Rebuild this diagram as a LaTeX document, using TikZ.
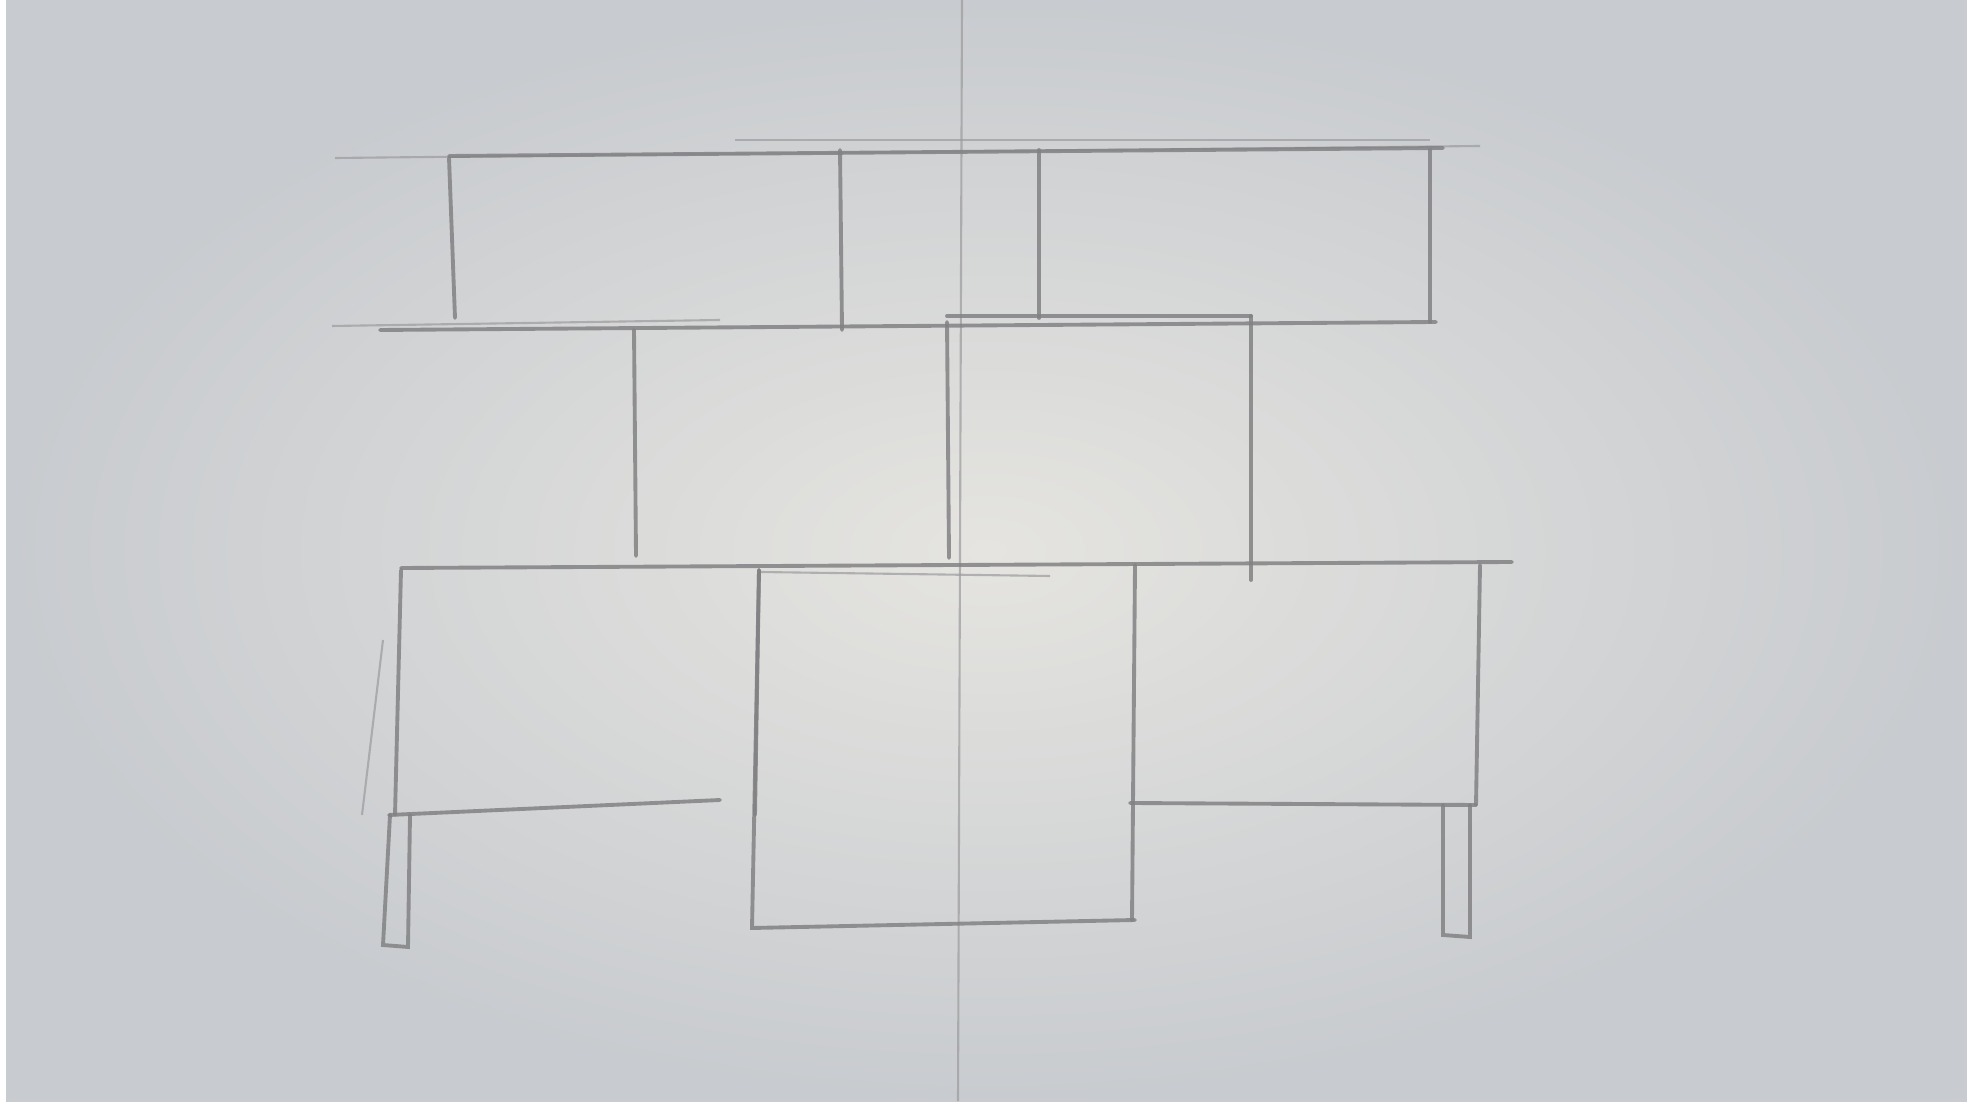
\documentclass[tikz,border=0pt]{standalone}
\begin{document}
\begin{tikzpicture}[x=0.01cm,y=-0.01cm,
  pencil/.style={draw={rgb,255:red,130;green,130;blue,132},line width=1.1pt,line cap=round,opacity=0.85},
  faint/.style={draw={rgb,255:red,155;green,155;blue,157},line width=0.6pt,opacity=0.7}]
\useasboundingbox (0,0) rectangle (1967,1107);
\fill[white] (0,0) rectangle (1967,1107);
\shade[inner color={rgb,255:red,229;green,228;blue,224},outer color={rgb,255:red,200;green,203;blue,207}] (6,0) rectangle (1967,1101);
% centre guide line
\draw[faint] (962,0) -- (958,1101);
% top row
\draw[faint] (335,158) -- (1480,146);
\draw[pencil] (449,156) -- (1443,148);
\draw[faint] (735,140) -- (1430,140);
\draw[pencil] (449,158) -- (455,318);
\draw[pencil] (840,150) -- (842,330);
\draw[pencil] (1039,150) -- (1039,318);
\draw[pencil] (1430,150) -- (1430,322);
% line under top row
\draw[faint] (332,326) -- (720,320);
\draw[pencil] (380,330) -- (1436,322);
% middle row
\draw[pencil] (947,316) -- (1251,316);
\draw[pencil] (634,330) -- (636,556);
\draw[pencil] (947,322) -- (949,558);
\draw[pencil] (1251,316) -- (1251,580);
% line under middle row
\draw[pencil] (401,568) -- (1512,562);
\draw[faint] (760,572) -- (1050,576);
% bottom left box
\draw[pencil] (401,570) -- (395,815);
\draw[faint] (383,640) -- (362,815);
\draw[pencil] (389,815) -- (720,800);
\draw[pencil] (759,570) -- (755,815);
% left leg
\draw[pencil] (390,815) -- (383,945) -- (408,947) -- (410,815);
% bottom centre box
\draw[pencil] (759,570) -- (752,928) -- (1135,920);
\draw[pencil] (1135,565) -- (1132,920);
% bottom right box
\draw[pencil] (1480,565) -- (1476,805);
\draw[pencil] (1130,803) -- (1476,805);
% right leg
\draw[pencil] (1443,805) -- (1443,935) -- (1470,937) -- (1470,805);
\end{tikzpicture}
\end{document}
